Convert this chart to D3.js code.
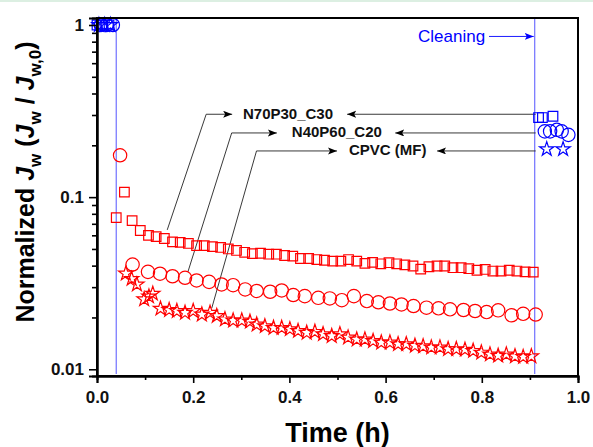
<!DOCTYPE html>
<html>
<head>
<meta charset="utf-8">
<script src="https://cdn.jsdelivr.net/npm/d3@7"></script>
<style>
body{margin:0;background:#fff;}
text{font-family:"Liberation Sans",Arial,sans-serif;}
</style>
</head>
<body>
<div class="canvas"></div>
<script>
//series names
const seriesNames = ['N70P30_C30','N40P60_C20','CPVC (MF)'];

//N70P30_C30 (squares), time in h, normalized flux
const sqTime = [0.040,0.057,0.073,0.090,0.107,0.123,0.140,0.157,0.173,0.190,0.207,0.223,0.240,0.257,0.273,0.290,0.307,0.323,0.340,0.357,0.373,0.390,0.407,0.423,0.440,0.457,0.473,0.490,0.507,0.523,0.540,0.557,0.573,0.590,0.607,0.623,0.640,0.657,0.673,0.690,0.707,0.723,0.740,0.757,0.773,0.790,0.807,0.823,0.840,0.857,0.873,0.890,0.907];
const sqFlux = [0.076,0.107,0.073,0.064,0.060,0.059,0.0575,0.055,0.0546,0.0538,0.0523,0.0523,0.0516,0.051,0.050,0.049,0.0478,0.047,0.0472,0.0466,0.0466,0.0458,0.0454,0.0440,0.0440,0.0434,0.0430,0.0425,0.0425,0.0434,0.0425,0.0412,0.0418,0.0410,0.0416,0.0410,0.0404,0.0398,0.0382,0.0394,0.0398,0.0398,0.0389,0.0389,0.0384,0.0376,0.0380,0.0372,0.0372,0.0376,0.0372,0.0368,0.0367];

//N40P60_C20 (circles)
const ciTime = [0.048,0.074,0.106,0.131,0.157,0.183,0.207,0.233,0.259,0.283,0.308,0.332,0.360,0.384,0.408,0.432,0.460,0.484,0.509,0.534,0.561,0.585,0.609,0.633,0.658,0.685,0.710,0.734,0.762,0.786,0.810,0.834,0.862,0.886,0.912];
const ciFlux = [0.175,0.0406,0.0368,0.0359,0.0347,0.0340,0.0328,0.0322,0.0311,0.0308,0.0291,0.0285,0.0282,0.0287,0.0270,0.0266,0.0260,0.0258,0.0252,0.0266,0.0249,0.0245,0.0241,0.0238,0.0233,0.0228,0.0226,0.0223,0.0221,0.0218,0.0215,0.0220,0.0206,0.0210,0.0208];

//CPVC (MF) (stars)
const stTime = [0.060,0.072,0.083,0.098,0.108,0.116,0.132,0.150,0.166,0.183,0.200,0.218,0.235,0.249,0.266,0.283,0.301,0.318,0.332,0.349,0.367,0.384,0.401,0.418,0.436,0.453,0.470,0.488,0.505,0.522,0.540,0.557,0.574,0.591,0.609,0.626,0.643,0.661,0.678,0.695,0.713,0.730,0.747,0.765,0.782,0.799,0.817,0.834,0.851,0.869,0.886,0.903];
const stFlux = [0.0360,0.0335,0.0311,0.0255,0.0265,0.0275,0.0225,0.0221,0.0218,0.0213,0.0218,0.0208,0.0213,0.0204,0.0195,0.0192,0.0192,0.0189,0.0182,0.0178,0.0174,0.0174,0.0171,0.0167,0.0163,0.0165,0.0160,0.0156,0.0160,0.0153,0.0149,0.0149,0.0146,0.0143,0.0143,0.0140,0.0140,0.0137,0.0136,0.0134,0.0134,0.0131,0.0131,0.0130,0.0128,0.0125,0.0122,0.0120,0.0122,0.0119,0.0118,0.0119];

//blue points: start of run and after cleaning
const sqStartTime = [0.000,0.012,0.025];
const sqStartFlux = [1,1,1];
const ciStartTime = [0.008,0.020,0.033];
const ciStartFlux = [1,1,1];
const stStartTime = [0.004,0.016,0.028];
const stStartFlux = [1,1,1];
const sqCleanTime = [0.918,0.926,0.948];
const sqCleanFlux = [0.29,0.29,0.295];
const ciCleanTime = [0.931,0.942,0.956,0.966,0.980];
const ciCleanFlux = [0.241,0.241,0.246,0.241,0.230];
const stCleanTime = [0.935,0.969];
const stCleanFlux = [0.19,0.19];

//vertical lines (start of filtration, cleaning)
const markTimes = [0.04,0.91];

//ticks
const xTicks = [0,0.2,0.4,0.6,0.8,1.0];
const xMinor = [0.1,0.3,0.5,0.7,0.9];
const yTicks = [0.01,0.1,1];
const yTickLabels = ['0.01','0.1','1'];
const yMinor = [0.02,0.03,0.04,0.05,0.06,0.07,0.08,0.09,0.2,0.3,0.4,0.5,0.6,0.7,0.8,0.9];

//callouts: leader start (t,v), elbow t, leader end t, label y value, label start t, right arrow tip t
const calloutStartT = [0.146,0.189,0.2385];
const calloutStartV = [0.0645,0.0368,0.0226];
const calloutElbowT = [0.227,0.280,0.3316];
const calloutEndT = [0.281,0.374,0.499];
const calloutV = [0.303,0.236,0.1855];
const labelT = [0.3035,0.405,0.524];
const rightTipT = [0.520,0.620,0.707];

const W = 593, H = 447;
const m = {t:18, r:15, b:71, l:97};
const w = W - m.l - m.r;
const h = H - m.t - m.b;

const svg = d3.select('.canvas').append('svg')
	.attr('width',W)
	.attr('height',H);

//faint strip at very top
svg.append('rect').attr('x',0).attr('y',0).attr('width',W).attr('height',2).attr('fill','#dcefe2');

const defs = svg.append('defs');
defs.append('marker')
	.attr('id','arrow')
	.attr('markerUnits','userSpaceOnUse')
	.attr('markerWidth',10).attr('markerHeight',8)
	.attr('refX',9).attr('refY',3.5)
	.attr('orient','auto')
	.append('path').attr('d','M0,0 L9,3.5 L0,7 L2,3.5 Z').attr('fill','#000');
defs.append('marker')
	.attr('id','arrow-blue')
	.attr('markerUnits','userSpaceOnUse')
	.attr('markerWidth',10).attr('markerHeight',8)
	.attr('refX',9).attr('refY',3.5)
	.attr('orient','auto')
	.append('path').attr('d','M0,0 L9,3.5 L0,7 L2,3.5 Z').attr('fill','#0000ff');

const g = svg.append('g').attr('transform',`translate(${m.l},${m.t})`);

const x = d3.scaleLinear().domain([0,1]).range([0,w]);
const y = d3.scaleLog().domain([0.00914,1.098]).range([h,0]);

//vertical blue lines
g.selectAll('.vline').data(markTimes).enter().append('line')
	.attr('class','vline')
	.attr('x1',d=>x(d)).attr('x2',d=>x(d))
	.attr('y1',0).attr('y2',h-2)
	.attr('stroke','#7070ff').attr('stroke-width',1.2);

//callout leaders (left side)
const lineGen = d3.line();
calloutV.forEach((v,i)=>{
	g.append('path')
		.attr('d',lineGen([
			[x(calloutStartT[i]),y(calloutStartV[i])],
			[x(calloutElbowT[i]),y(v)],
			[x(calloutEndT[i]),y(v)]
		]))
		.attr('fill','none').attr('stroke','#222').attr('stroke-width',0.9)
		.attr('marker-end','url(#arrow)');
	//right side arrows
	g.append('line')
		.attr('x1',x(0.912)).attr('y1',y(v))
		.attr('x2',x(rightTipT[i])).attr('y2',y(v))
		.attr('stroke','#222').attr('stroke-width',0.9)
		.attr('marker-end','url(#arrow)');
	g.append('text')
		.attr('x',x(labelT[i])).attr('y',y(v)+4.5)
		.attr('font-size',15).attr('font-weight','bold')
		.attr('fill','#111')
		.text(seriesNames[i]);
});

//cleaning label
g.append('text')
	.attr('x',x(0.807)).attr('y',y(0.858)+6)
	.attr('text-anchor','end')
	.attr('font-size',17).attr('fill','#0000ff')
	.text('Cleaning');
g.append('line')
	.attr('x1',x(0.815)).attr('y1',y(0.858))
	.attr('x2',x(0.908)).attr('y2',y(0.858))
	.attr('stroke','#0000ff').attr('stroke-width',0.9)
	.attr('marker-end','url(#arrow-blue)');

//markers
function drawSeries(times, vals, shape, size, color){
	g.append('g').selectAll('path').data(times).enter().append('path')
		.attr('d',d3.symbol().type(shape).size(size))
		.attr('transform',(d,i)=>`translate(${x(d)},${y(vals[i])})`)
		.attr('fill','none')
		.attr('stroke',color)
		.attr('stroke-width',1.2);
}
drawSeries(sqTime,sqFlux,d3.symbolSquare,92,'#ff0000');
drawSeries(ciTime,ciFlux,d3.symbolCircle,140,'#ff0000');
drawSeries(stTime,stFlux,d3.symbolStar,64,'#ff0000');

drawSeries(sqStartTime,sqStartFlux,d3.symbolSquare,92,'#0000ff');
drawSeries(ciStartTime,ciStartFlux,d3.symbolCircle,140,'#0000ff');
drawSeries(stStartTime,stStartFlux,d3.symbolStar,64,'#0000ff');
drawSeries(sqCleanTime,sqCleanFlux,d3.symbolSquare,92,'#0000ff');
drawSeries(ciCleanTime,ciCleanFlux,d3.symbolCircle,140,'#0000ff');
drawSeries(stCleanTime,stCleanFlux,d3.symbolStar,64,'#0000ff');

//frame
g.append('rect')
	.attr('x',0).attr('y',0).attr('width',w).attr('height',h)
	.attr('fill','none').attr('stroke','#000').attr('stroke-width',2);

//x axis
g.append('g').attr('transform',`translate(0,${h})`)
	.call(d3.axisBottom(x).tickValues(xTicks).tickFormat(d3.format('.1f')).tickSize(7).tickPadding(8));
g.append('g').attr('transform',`translate(0,${h})`)
	.call(d3.axisBottom(x).tickValues(xMinor).tickFormat('').tickSize(4));

//y axis
g.append('g')
	.call(d3.axisLeft(y).tickValues(yTicks).tickFormat((d,i)=>yTickLabels[i]).tickSize(8).tickPadding(5));
g.append('g')
	.call(d3.axisLeft(y).tickValues(yMinor).tickFormat('').tickSize(5));

g.selectAll('.domain').attr('stroke','#000').attr('stroke-width',2);
g.selectAll('.tick line').attr('stroke','#000').attr('stroke-width',1.6);
g.selectAll('.tick text')
	.attr('font-family','"Liberation Sans",Arial,sans-serif')
	.attr('font-size',17).attr('font-weight','bold').attr('fill','#111');

//axis titles
svg.append('text')
	.attr('x',m.l + w/2).attr('y',442)
	.attr('text-anchor','middle')
	.attr('font-size',27).attr('font-weight','bold')
	.text('Time (h)');

const yt = svg.append('text')
	.attr('transform','translate(34,182) rotate(-90)')
	.attr('text-anchor','middle')
	.attr('font-size',25).attr('font-weight','bold');
yt.append('tspan').text('Normalized ');
yt.append('tspan').attr('font-style','italic').text('J');
yt.append('tspan').attr('font-size',17).attr('dy',7).text('w');
yt.append('tspan').attr('dy',-7).text(' (');
yt.append('tspan').attr('font-style','italic').text('J');
yt.append('tspan').attr('font-size',17).attr('dy',7).text('w');
yt.append('tspan').attr('dy',-7).text(' / ');
yt.append('tspan').attr('font-style','italic').text('J');
yt.append('tspan').attr('font-size',17).attr('dy',7).text('w,0');
yt.append('tspan').attr('dy',-7).text(')');
</script>
</body>
</html>
